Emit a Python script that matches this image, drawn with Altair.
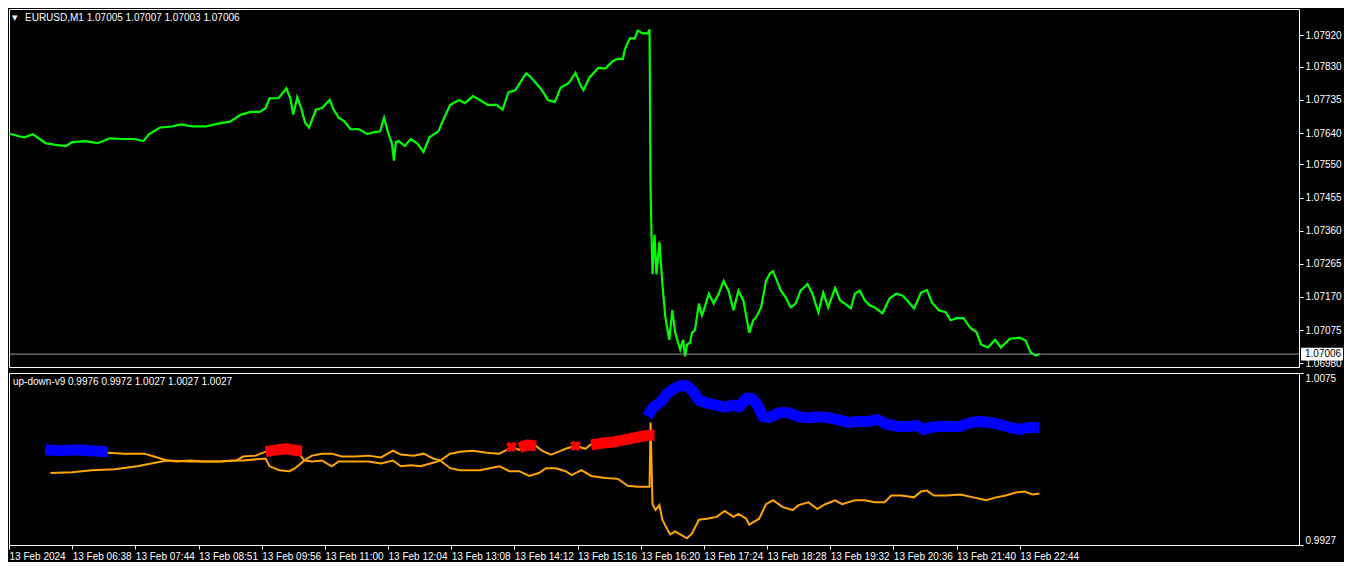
import altair as alt
import pandas as pd

# ---------------- data ----------------
price_bars = [0, 10, 16, 24, 31, 37, 47, 58, 64, 77, 90, 102, 115, 127, 136, 142, 153, 165, 174, 186,
              199, 212, 224, 235, 245, 254, 260, 264, 273, 281, 285, 288, 292, 296, 300, 304, 311, 317, 325, 329,
              334, 340, 346, 355, 363, 369, 376, 380, 384, 388, 390, 392, 395, 401, 407, 414, 420, 426, 435, 441,
              447, 456, 462, 470, 477, 485, 494, 500, 506, 513, 521, 524, 527, 534, 540, 546, 553, 559, 567, 574,
              579, 582, 588, 597, 604, 612, 617, 622, 624, 629, 634, 637, 642, 647, 649, 650, 651, 652, 654, 656,
              659, 662, 665, 669, 672, 675, 680, 683, 685, 687, 690, 692, 695, 699, 702, 704, 709, 714, 719, 724,
              729, 734, 739, 744, 750, 754, 757, 762, 767, 771, 774, 777, 782, 787, 792, 797, 802, 809, 814, 820,
              825, 830, 837, 842, 847, 853, 857, 862, 867, 872, 877, 885, 892, 899, 905, 910, 917, 924, 930, 935,
              942, 949, 954, 960, 967, 974, 980, 985, 992, 999, 1005, 1014, 1024, 1030, 1035, 1040, 1044]
price_vals = [1.07639, 1.07631, 1.07628, 1.07637, 1.07623, 1.07611, 1.07606, 1.07603, 1.07614, 1.07617,
              1.07611, 1.07625, 1.07623, 1.07623, 1.07617, 1.07637, 1.07656, 1.07659, 1.07665, 1.07659,
              1.07659, 1.07667, 1.07673, 1.07693, 1.07701, 1.07701, 1.07712, 1.07740, 1.07740, 1.07768,
              1.07740, 1.07693, 1.07743, 1.07712, 1.07670, 1.07656, 1.07707, 1.07712, 1.07735, 1.07707,
              1.07684, 1.07673, 1.07651, 1.07651, 1.07637, 1.07642, 1.07645, 1.07684, 1.07642, 1.07609,
              1.07561, 1.07614, 1.07617, 1.07603, 1.07623, 1.07609, 1.07586, 1.07628, 1.07645, 1.07684,
              1.07721, 1.07735, 1.07726, 1.07746, 1.07735, 1.07721, 1.07721, 1.07707, 1.07757, 1.07763,
              1.07799, 1.07811, 1.07805, 1.07783, 1.07763, 1.07735, 1.07729, 1.07771, 1.07783, 1.07813,
              1.07777, 1.07763, 1.07799, 1.07827, 1.07825, 1.07847, 1.07853, 1.07853, 1.07881, 1.07912,
              1.07912, 1.07934, 1.07926, 1.07926, 1.07937, 1.07482, 1.07348, 1.07235, 1.07348, 1.07235,
              1.07328, 1.07207, 1.07112, 1.07047, 1.07132, 1.07067, 1.07019, 1.07047, 1.07000, 1.07033,
              1.07039, 1.07067, 1.07075, 1.07151, 1.07117, 1.07132, 1.07179, 1.07151, 1.07179, 1.07216,
              1.07188, 1.07132, 1.07188, 1.07160, 1.07067, 1.07103, 1.07112, 1.07140, 1.07216, 1.07238,
              1.07244, 1.07224, 1.07188, 1.07168, 1.07140, 1.07151, 1.07188, 1.07207, 1.07179, 1.07126,
              1.07182, 1.07140, 1.07196, 1.07160, 1.07151, 1.07137, 1.07179, 1.07188, 1.07160, 1.07146,
              1.07140, 1.07123, 1.07165, 1.07179, 1.07174, 1.07160, 1.07137, 1.07182, 1.07190, 1.07154,
              1.07132, 1.07126, 1.07103, 1.07109, 1.07109, 1.07081, 1.07070, 1.07033, 1.07025, 1.07047,
              1.07025, 1.07050, 1.07053, 1.07045, 1.07011, 1.07002, 1.07006]

upper_bars = [37, 57, 77, 100, 117, 137, 147, 160, 170, 184, 197, 214, 230, 237, 250, 260, 272, 282, 292, 299,
              307, 317, 327, 337, 350, 364, 377, 389, 397, 410, 420, 430, 437, 447, 457, 470, 484, 497, 504, 509,
              517, 525, 534, 540, 549, 557, 564, 574, 584, 590, 604, 617, 630, 644, 649]
upper_vals = [1.00081, 1.00081, 1.00073, 1.00064, 1.00056, 1.00056, 1.00031, 0.99997, 0.99989, 0.99997,
              0.99989, 0.99989, 0.99997, 1.00031, 1.00039, 1.00073, 1.00089, 1.00089, 1.00081, 0.99997,
              1.00039, 1.00056, 1.00056, 1.00031, 1.00031, 1.00039, 1.00023, 1.00081, 1.00048, 1.00039,
              1.00056, 1.00014, 0.99997, 1.00056, 1.00073, 1.00081, 1.00064, 1.00056, 1.00089, 1.00114,
              1.00089, 1.00131, 1.00123, 1.00081, 1.00048, 1.00073, 1.00098, 1.00123, 1.00098, 1.00140,
              1.00140, 1.00156, 1.00198, 1.00206, 1.00215]

lower_bars = [42, 64, 84, 107, 130, 144, 160, 184, 197, 214, 227, 237, 260, 264, 274, 284, 290, 299, 307, 317,
              327, 334, 350, 364, 377, 389, 397, 407, 417, 427, 437, 447, 457, 467, 477, 487, 497, 507, 517, 527,
              537, 544, 554, 564, 570, 580, 590, 604, 617, 627, 637, 649, 650, 652, 655, 659, 662, 667, 670, 675,
              680, 687, 692, 699, 707, 717, 725, 734, 739, 747, 750, 760, 767, 774, 784, 794, 800, 810, 819, 827,
              837, 844, 857, 867, 877, 887, 894, 904, 917, 924, 930, 937, 950, 964, 977, 990, 1000, 1010, 1020, 1029,
              1037, 1044]
lower_vals = [0.99889, 0.99897, 0.99914, 0.99922, 0.99947, 0.99972, 0.99997, 0.99989, 0.99989, 0.99989,
              0.99997, 0.99997, 1.00014, 0.99947, 0.99914, 0.99905, 0.99931, 0.99997, 0.99989, 0.99997,
              0.99947, 0.99989, 0.99989, 0.99989, 0.99972, 0.99997, 0.99947, 0.99956, 0.99947, 0.99972,
              0.99997, 0.99931, 0.99914, 0.99914, 0.99914, 0.99931, 0.99947, 0.99905, 0.99905, 0.99864,
              0.99889, 0.99931, 0.99931, 0.99905, 0.99872, 0.99914, 0.99864, 0.99847, 0.99839, 0.99780,
              0.99772, 0.99772, 1.00324, 0.99621, 0.99571, 0.99613, 0.99487, 0.99404, 0.99362, 0.99387,
              0.99362, 0.99328, 0.99370, 0.99487, 0.99496, 0.99512, 0.99563, 0.99512, 0.99538, 0.99496,
              0.99446, 0.99496, 0.99621, 0.99655, 0.99596, 0.99571, 0.99613, 0.99638, 0.99579, 0.99621,
              0.99655, 0.99621, 0.99655, 0.99655, 0.99638, 0.99638, 0.99696, 0.99696, 0.99680, 0.99730,
              0.99738, 0.99696, 0.99696, 0.99705, 0.99680, 0.99655, 0.99680, 0.99696, 0.99721, 0.99730,
              0.99705, 0.99713]

blue1_bars = [37, 52, 67, 82, 100]
blue1_vals = [1.00089, 1.00081, 1.00089, 1.00081, 1.00073]
blue2_bars = [647, 652, 660, 667, 674, 680, 687, 694, 699, 707, 717, 725, 734, 740, 747, 752, 757, 764, 770, 780,
              790, 800, 810, 820, 830, 840, 850, 860, 870, 880, 890, 900, 910, 920, 927, 934, 944, 954, 964, 974,
              984, 994, 1004, 1014, 1024, 1034, 1044]
blue2_vals = [1.00374, 1.00449, 1.00499, 1.00574, 1.00616, 1.00641, 1.00641, 1.00583, 1.00516, 1.00491,
              1.00474, 1.00457, 1.00474, 1.00457, 1.00533, 1.00533, 1.00491, 1.00374, 1.00365, 1.00407,
              1.00407, 1.00374, 1.00365, 1.00374, 1.00365, 1.00349, 1.00324, 1.00332, 1.00332, 1.00349,
              1.00307, 1.00290, 1.00290, 1.00298, 1.00265, 1.00282, 1.00290, 1.00290, 1.00290, 1.00324,
              1.00332, 1.00324, 1.00307, 1.00282, 1.00265, 1.00282, 1.00282]
red1_bars = [260, 272, 282, 292, 297]
red1_vals = [1.00073, 1.00089, 1.00098, 1.00081, 1.00081]
red2_bars = [517, 525, 534]
red2_vals = [1.00106, 1.00131, 1.00123]
red3_bars = [590, 602, 612, 622, 632, 642, 649, 654]
red3_vals = [1.00131, 1.00148, 1.00156, 1.00173, 1.00190, 1.00206, 1.00215, 1.00215]
cross_bars = [509, 574]
cross_vals = [1.00114, 1.00123]

x_tick_bars = [0, 64, 128, 192, 256, 320, 384, 448, 512, 576, 640, 704, 768, 832, 896, 960, 1024]
x_tick_labels = ["13 Feb 2024", "13 Feb 06:38", "13 Feb 07:44", "13 Feb 08:51", "13 Feb 09:56",
                 "13 Feb 11:00", "13 Feb 12:04", "13 Feb 13:08", "13 Feb 14:12", "13 Feb 15:16",
                 "13 Feb 16:20", "13 Feb 17:24", "13 Feb 18:28", "13 Feb 19:32", "13 Feb 20:36",
                 "13 Feb 21:40", "13 Feb 22:44"]
price_ticks = [1.07920, 1.07830, 1.07735, 1.07640, 1.07550, 1.07455, 1.07360, 1.07265, 1.07170, 1.07075, 1.06980]
price_domain = [1.06969, 1.07996]
ind_ticks = [0.9927, 1.0075]
ind_domain = [0.9927, 1.0075]
bid_price = [1.07006]
main_title = ["EURUSD,M1  1.07005 1.07007 1.07003 1.07006"]
ind_title = ["up-down-v9 0.9976 0.9972 1.0027 1.0027 1.0027"]
x_max = 1307

# ---------------- layout ----------------
W = 1290
H1 = 358
H2 = 172
FONT = "Liberation Sans"
FS = 10

xs = alt.Scale(domain=[0, x_max], nice=False, zero=False)
ys_top = alt.Scale(domain=price_domain, nice=False, zero=False)
ys_bot = alt.Scale(domain=ind_domain, nice=False, zero=False)

label_expr = ("[" + ",".join("'%s'" % s for s in x_tick_labels) + "][indexof(["
              + ",".join(str(b) for b in x_tick_bars) + "], datum.value)]")

# ---------------- top panel ----------------
price_df = pd.DataFrame({"bar": price_bars, "price": price_vals})
bid_df = pd.DataFrame({"price": bid_price})

price_line = alt.Chart(price_df).mark_line(color="#00ff00", strokeWidth=2.2, strokeJoin="miter",
                                           clip=True).encode(
    x=alt.X("bar:Q", scale=xs, axis=None),
    y=alt.Y("price:Q", scale=ys_top,
            axis=alt.Axis(orient="right", values=price_ticks, tickCount=len(price_ticks) + 5,
                          format=".5f", title=None, tickSize=4, labelPadding=2,
                          labelOverlap=False, labelFlush=False)),
)
bid_rule = alt.Chart(bid_df).mark_rule(color="#8f99a3", strokeWidth=1).encode(
    y=alt.Y("price:Q", scale=ys_top)
)
bid_box = alt.Chart(bid_df).transform_calculate(
    lo="datum.price - 0.00018", hi="datum.price + 0.00018"
).mark_rect(color="white").encode(
    x=alt.value(W + 2), x2=alt.value(W + 44),
    y=alt.Y("lo:Q", scale=ys_top), y2="hi:Q",
)
bid_text = alt.Chart(bid_df).mark_text(align="left", baseline="middle", color="black",
                                       font=FONT, fontSize=FS).encode(
    x=alt.value(W + 6), y=alt.Y("price:Q", scale=ys_top),
    text=alt.Text("price:Q", format=".5f"),
)
tri = alt.Chart(pd.DataFrame({"t": ["\u25BC"]})).mark_text(
    align="left", baseline="middle", color="white", font="DejaVu Sans", fontSize=7
).encode(x=alt.value(3), y=alt.value(9), text="t:N")
top_title = alt.Chart(pd.DataFrame({"t": main_title})).mark_text(
    align="left", baseline="middle", color="white", font=FONT, fontSize=FS
).encode(x=alt.value(16), y=alt.value(9), text="t:N")

top = alt.layer(price_line, bid_rule, bid_box, bid_text, tri, top_title).properties(width=W, height=H1)

# ---------------- bottom panel ----------------
upper_df = pd.DataFrame({"bar": upper_bars, "val": upper_vals})
lower_df = pd.DataFrame({"bar": lower_bars, "val": lower_vals})

segs = []
for name, state, b, v in [("b1", "up", blue1_bars, blue1_vals), ("b2", "up", blue2_bars, blue2_vals),
                          ("r1", "down", red1_bars, red1_vals), ("r2", "down", red2_bars, red2_vals),
                          ("r3", "down", red3_bars, red3_vals)]:
    segs.append(pd.DataFrame({"bar": b, "val": v, "seg": name, "state": state}))
band_df = pd.concat(segs, ignore_index=True)
cross_df = pd.DataFrame({"bar": cross_bars, "val": cross_vals})

xenc = alt.X("bar:Q", scale=xs,
             axis=alt.Axis(values=x_tick_bars, tickCount=len(x_tick_bars) + 5, labelExpr=label_expr,
                           labelAlign="left", title=None, tickSize=4, labelPadding=2,
                           labelOverlap=False, labelFlush=False, labelBound=False))
yaxis = alt.Axis(orient="right", values=ind_ticks, tickCount=5, format=".4f", title=None, tickSize=4,
                 labelPadding=2, labelFlush=True, labelOverlap=False)

upper_line = alt.Chart(upper_df).mark_line(color="#ffa500", strokeWidth=2).encode(
    x=xenc, y=alt.Y("val:Q", scale=ys_bot, axis=yaxis))
lower_line = alt.Chart(lower_df).mark_line(color="#ffa500", strokeWidth=2).encode(
    x=alt.X("bar:Q", scale=xs), y=alt.Y("val:Q", scale=ys_bot))
bands = alt.Chart(band_df).mark_line(strokeWidth=11, strokeJoin="round").encode(
    x=alt.X("bar:Q", scale=xs), y=alt.Y("val:Q", scale=ys_bot), detail="seg:N",
    color=alt.Color("state:N", scale=alt.Scale(domain=["up", "down"], range=["#0000ff", "#ff0000"]),
                    legend=None))
crosses = alt.Chart(cross_df).mark_point(shape="cross", angle=45, filled=True, color="#ff0000",
                                         size=120, opacity=1).encode(
    x=alt.X("bar:Q", scale=xs), y=alt.Y("val:Q", scale=ys_bot))
bot_title = alt.Chart(pd.DataFrame({"t": ind_title})).mark_text(
    align="left", baseline="middle", color="white", font=FONT, fontSize=FS
).encode(x=alt.value(4), y=alt.value(9), text="t:N")

bottom = alt.layer(upper_line, lower_line, bands, crosses, bot_title).properties(width=W, height=H2)

chart = alt.vconcat(top, bottom, spacing=3).properties(
    background="black", padding=0
).configure_view(stroke="white", strokeWidth=1).configure_axis(
    labelColor="white", tickColor="white", domain=False, grid=False,
    labelFont=FONT, labelFontSize=FS, labelOverlap=False
)

chart.save("out.html", embed_options={"renderer": "svg", "actions": False})
